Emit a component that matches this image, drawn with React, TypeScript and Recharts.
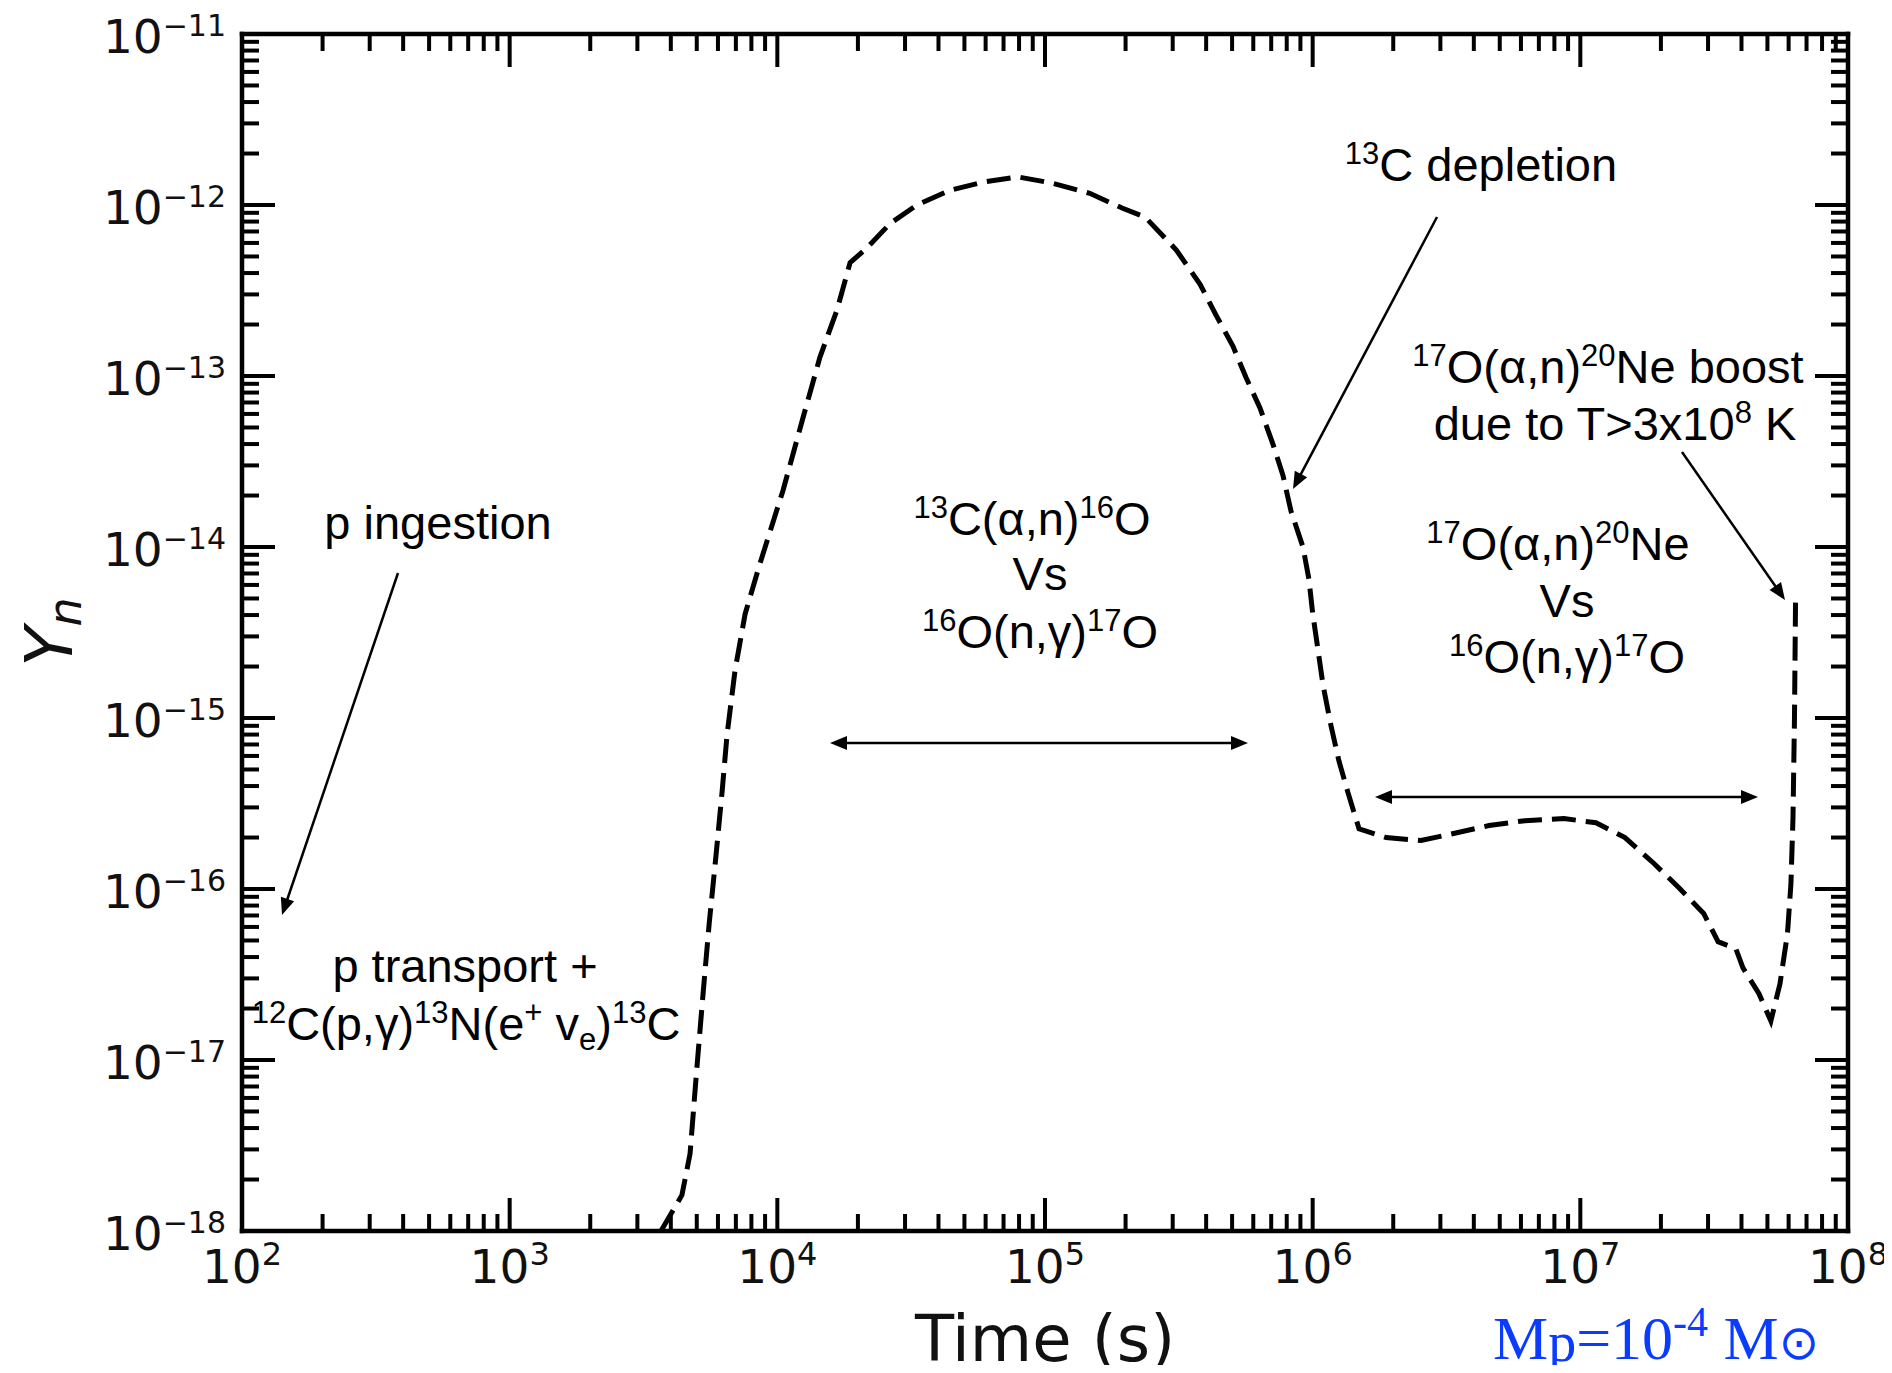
import React from 'react';
import { ComposedChart, Line, XAxis, YAxis } from 'recharts';

// ---- data ----
const timeSeconds = [3675, 4400, 4720, 4990, 5275, 5560, 5900, 6220, 6490, 6950, 7580, 8610, 10500, 12470, 14430, 16700, 18700, 21600, 26400, 33200, 44200, 58700, 79200, 107000, 147000, 194000, 236600, 309500, 379600, 435500, 504000, 563700, 635600, 711000, 774700, 830000, 920000, 968000, 1.0e6, 1.047e6, 1.094e6, 1.171e6, 1.254e6, 1.355e6, 1.49e6, 1.88e6, 2.54e6, 3.36e6, 4.56e6, 6.21e6, 8.69e6, 1.144e7, 1.468e7, 1.884e7, 2.33e7, 2.89e7, 3.27e7, 3.81e7, 4.05e7, 4.65e7, 5.15e7, 5.57e7, 5.94e7, 6.12e7, 6.23e7, 6.31e7, 6.37e7];
const neutronAbundance = [1.0e-18, 1.62e-18, 2.83e-18, 8.5e-18, 2.41e-17, 6.2e-17, 1.57e-16, 3.73e-16, 8.0e-16, 1.9e-15, 4.06e-15, 8.0e-15, 2.14e-14, 5.7e-14, 1.29e-13, 2.43e-13, 4.6e-13, 5.6e-13, 7.8e-13, 1.0e-12, 1.22e-12, 1.36e-12, 1.46e-12, 1.34e-12, 1.17e-12, 9.6e-13, 8.5e-13, 5.45e-13, 3.44e-13, 2.27e-13, 1.49e-13, 9.8e-14, 6.5e-14, 3.98e-14, 2.62e-14, 1.62e-14, 1.0e-14, 6.5e-15, 4.1e-15, 2.5e-15, 1.55e-15, 9.0e-16, 5.6e-16, 3.66e-16, 2.25e-16, 2.0e-16, 1.92e-16, 2.11e-16, 2.35e-16, 2.51e-16, 2.58e-16, 2.44e-16, 2.0e-16, 1.41e-16, 1.02e-16, 7.2e-17, 4.92e-17, 4.48e-17, 3.46e-17, 2.44e-17, 1.69e-17, 2.79e-17, 5.47e-17, 1.07e-16, 2.61e-16, 1.0e-15, 5.07e-15];

const xMajorTicks = [1e2, 1e3, 1e4, 1e5, 1e6, 1e7, 1e8];
const yMajorTicks = [1e-18, 1e-17, 1e-16, 1e-15, 1e-14, 1e-13, 1e-12, 1e-11];
const minorSteps = [2, 3, 4, 5, 6, 7, 8, 9];

const xAxisTitle = 'Time (s)';
const yAxisTitle = 'Y';
const yAxisTitleSub = 'n';

const data = timeSeconds.map((t, i) => ({ t, y: neutronAbundance[i] }));

const withMinor = (majors: number[]) => {
  const out: number[] = [];
  majors.forEach((m, i) => {
    out.push(m);
    if (i < majors.length - 1) minorSteps.forEach((k) => out.push(k * m));
  });
  return out;
};
const xTicks = withMinor(xMajorTicks);
const yTicks = withMinor(yMajorTicks);

// ---- layout ----
const W = 1876;
const H = 1357;
const PLOT_L = 234;
const PLOT_R = 1840;
const PLOT_T = 26;
const PLOT_B = 1223;

const TICK_W = 4;
const MAJOR_LEN = 33;
const MINOR_LEN = 17;
const LABEL_FONT = 'DejaVu Sans, sans-serif';
const ANNO_FONT = 'Liberation Sans, Arial, sans-serif';

const isMajor = (v: number) => {
  const l = Math.log10(v);
  return Math.abs(l - Math.round(l)) < 1e-6;
};
const expText = (v: number) => {
  const e = Math.round(Math.log10(v));
  return e < 0 ? '\u2212' + Math.abs(e) : String(e);
};

const BottomTick = (p: any) => {
  const { x, y, payload } = p;
  const major = isMajor(payload.value);
  const len = major ? MAJOR_LEN : MINOR_LEN;
  return (
    <g>
      <line x1={x} x2={x} y1={y} y2={y - len} stroke="#000" strokeWidth={TICK_W} />
      {major && (
        <text x={x} y={y + 52} textAnchor="middle" fill="#111" fontFamily={LABEL_FONT}>
          <tspan fontSize={47}>10</tspan>
          <tspan fontSize={32} dy={-18}>{expText(payload.value)}</tspan>
        </text>
      )}
    </g>
  );
};
const TopTick = (p: any) => {
  const { x, y, payload } = p;
  const len = isMajor(payload.value) ? MAJOR_LEN : MINOR_LEN;
  return <line x1={x} x2={x} y1={y} y2={y + len} stroke="#000" strokeWidth={TICK_W} />;
};
const LeftTick = (p: any) => {
  const { x, y, payload } = p;
  const major = isMajor(payload.value);
  const len = major ? MAJOR_LEN : MINOR_LEN;
  return (
    <g>
      <line x1={x} x2={x + len} y1={y} y2={y} stroke="#000" strokeWidth={TICK_W} />
      {major && (
        <text x={x - 16} y={y + 19} textAnchor="end" fill="#111" fontFamily={LABEL_FONT}>
          <tspan fontSize={47}>10</tspan>
          <tspan fontSize={30} dy={-17}>{expText(payload.value)}</tspan>
        </text>
      )}
    </g>
  );
};
const RightTick = (p: any) => {
  const { x, y, payload } = p;
  const len = isMajor(payload.value) ? MAJOR_LEN : MINOR_LEN;
  return <line x1={x} x2={x - len} y1={y} y2={y} stroke="#000" strokeWidth={TICK_W} />;
};

// ---- annotation helpers ----
type Seg = [string, ('n' | 'sup' | 'sub')?];
const Rich = ({ x, y, segs, size = 47, small = 31 }: { x: number; y: number; segs: Seg[]; size?: number; small?: number }) => {
  const offs: Record<string, number> = { n: 0, sup: -17, sub: 10 };
  let cur = 0;
  return (
    <text x={x} y={y} textAnchor="middle" fontFamily={ANNO_FONT} fill="#000" style={{ whiteSpace: 'pre' }}>
      {segs.map(([t, k = 'n'], i) => {
        const target = offs[k];
        const dy = target - cur;
        cur = target;
        return (
          <tspan key={i} dy={dy || undefined} fontSize={k === 'n' ? size : small}>
            {t}
          </tspan>
        );
      })}
    </text>
  );
};

const head = (x1: number, y1: number, x2: number, y2: number) => {
  const L = 17;
  const Hw = 7;
  const dx = x2 - x1;
  const dy = y2 - y1;
  const d = Math.hypot(dx, dy);
  const ux = dx / d;
  const uy = dy / d;
  const bx = x2 - ux * L;
  const by = y2 - uy * L;
  return `${x2},${y2} ${bx - uy * Hw},${by + ux * Hw} ${bx + uy * Hw},${by - ux * Hw}`;
};

const Arrow = ({ x1, y1, x2, y2, both = false }: { x1: number; y1: number; x2: number; y2: number; both?: boolean }) => {
  const d = Math.hypot(x2 - x1, y2 - y1);
  const ux = (x2 - x1) / d;
  const uy = (y2 - y1) / d;
  const sx = both ? x1 + ux * 14 : x1;
  const sy = both ? y1 + uy * 14 : y1;
  return (
    <g>
      <line x1={sx} y1={sy} x2={x2 - ux * 14} y2={y2 - uy * 14} stroke="#000" strokeWidth={2.5} />
      <polygon points={head(x1, y1, x2, y2)} fill="#000" />
      {both && <polygon points={head(x2, y2, x1, y1)} fill="#000" />}
    </g>
  );
};

const Annotations = () => (
  <svg
    width={W}
    height={H}
    style={{ position: 'absolute', left: 0, top: 0, overflow: 'visible', pointerEvents: 'none' }}
  >
    {/* axis titles */}
    <text x={1037} y={1353} textAnchor="middle" fontFamily={LABEL_FONT} fontSize={64} fill="#111">
      {xAxisTitle}
    </text>
    <text
      transform="translate(64,624) rotate(-90)"
      textAnchor="middle"
      fontFamily={LABEL_FONT}
      fontSize={66}
      fontStyle="italic"
      fill="#111"
    >
      <tspan>{yAxisTitle}</tspan>
      <tspan fontSize={46} dy={9}>{yAxisTitleSub}</tspan>
    </text>

    {/* left annotations */}
    <Rich x={430} y={531} segs={[['p ingestion']]} />
    <Arrow x1={390} y1={565} x2={274} y2={907} />
    <Rich x={457} y={974} segs={[['p transport +']]} />
    <Rich
      x={458}
      y={1032}
      segs={[['12', 'sup'], ['C(p,\u03b3)'], ['13', 'sup'], ['N(e'], ['+', 'sup'], [' v'], ['e', 'sub'], [')'], ['13', 'sup'], ['C']]}
    />

    {/* middle */}
    <Rich x={1024} y={527} segs={[['13', 'sup'], ['C(\u03b1,n)'], ['16', 'sup'], ['O']]} />
    <Rich x={1032} y={582} segs={[['Vs']]} />
    <Rich x={1032} y={640} segs={[['16', 'sup'], ['O(n,\u03b3)'], ['17', 'sup'], ['O']]} />
    <Arrow x1={822} y1={735} x2={1240} y2={735} both />

    {/* 13C depletion */}
    <Rich x={1473} y={173} segs={[['13', 'sup'], ['C depletion']]} />
    <Arrow x1={1429} y1={209} x2={1285} y2={481} />

    {/* boost */}
    <Rich x={1600} y={375} segs={[['17', 'sup'], ['O(\u03b1,n)'], ['20', 'sup'], ['Ne boost']]} />
    <Rich x={1607} y={432} segs={[['due to T>3x10'], ['8', 'sup'], [' K']]} />
    <Arrow x1={1674} y1={444} x2={1777} y2={592} />

    {/* right block */}
    <Rich x={1550} y={552} segs={[['17', 'sup'], ['O(\u03b1,n)'], ['20', 'sup'], ['Ne']]} />
    <Rich x={1559} y={609} segs={[['Vs']]} />
    <Rich x={1559} y={665} segs={[['16', 'sup'], ['O(n,\u03b3)'], ['17', 'sup'], ['O']]} />
    <Arrow x1={1367} y1={789} x2={1750} y2={789} both />

    {/* mass label */}
    <text x={1485} y={1351} fontFamily="Liberation Serif, Times New Roman, serif" fill="#0a3cff" style={{ whiteSpace: 'pre' }}>
      <tspan fontSize={62}>M</tspan>
      <tspan fontSize={56} dy={2}>p</tspan>
      <tspan fontSize={62} dy={-2}>=10</tspan>
      <tspan fontSize={42} dy={-23}>-4</tspan>
      <tspan fontSize={62} dy={23}> M</tspan>
      <tspan fontSize={48} fontFamily="DejaVu Sans, sans-serif">{'\u2299'}</tspan>
    </text>
  </svg>
);

export default function App() {
  const axisLine = { stroke: '#000', strokeWidth: 4.5, strokeLinecap: 'square' as const };
  return (
    <div style={{ position: 'relative', width: W, height: H }}>
      <style>{`.recharts-surface{overflow:visible}.recharts-wrapper{overflow:visible}`}</style>
      <ComposedChart width={W} height={H} data={data} margin={{ top: 0, right: 0, bottom: 0, left: 0 }}>
        <XAxis
          xAxisId="b"
          dataKey="t"
          type="number"
          scale="log"
          domain={[1e2, 1e8]}
          allowDataOverflow
          ticks={xTicks}
          interval={0}
          height={H - PLOT_B}
          tickSize={0}
          tickMargin={0}
          tickLine={false}
          axisLine={axisLine}
          tick={BottomTick}
        />
        <XAxis
          xAxisId="t"
          orientation="top"
          dataKey="t"
          type="number"
          scale="log"
          domain={[1e2, 1e8]}
          allowDataOverflow
          ticks={xTicks}
          interval={0}
          height={PLOT_T}
          tickSize={0}
          tickMargin={0}
          tickLine={false}
          axisLine={axisLine}
          tick={TopTick}
        />
        <YAxis
          yAxisId="l"
          type="number"
          scale="log"
          domain={[1e-18, 1e-11]}
          allowDataOverflow
          ticks={yTicks}
          interval={0}
          width={PLOT_L}
          tickSize={0}
          tickMargin={0}
          tickLine={false}
          axisLine={axisLine}
          tick={LeftTick}
        />
        <YAxis
          yAxisId="r"
          orientation="right"
          type="number"
          scale="log"
          domain={[1e-18, 1e-11]}
          allowDataOverflow
          ticks={yTicks}
          interval={0}
          width={W - PLOT_R}
          tickSize={0}
          tickMargin={0}
          tickLine={false}
          axisLine={axisLine}
          tick={RightTick}
        />
        <Line
          xAxisId="b"
          yAxisId="l"
          dataKey="y"
          type="linear"
          stroke="#000"
          strokeWidth={5}
          strokeDasharray="24 10"
          dot={false}
          activeDot={false}
          isAnimationActive={false}
        />
      </ComposedChart>
      <Annotations />
    </div>
  );
}
